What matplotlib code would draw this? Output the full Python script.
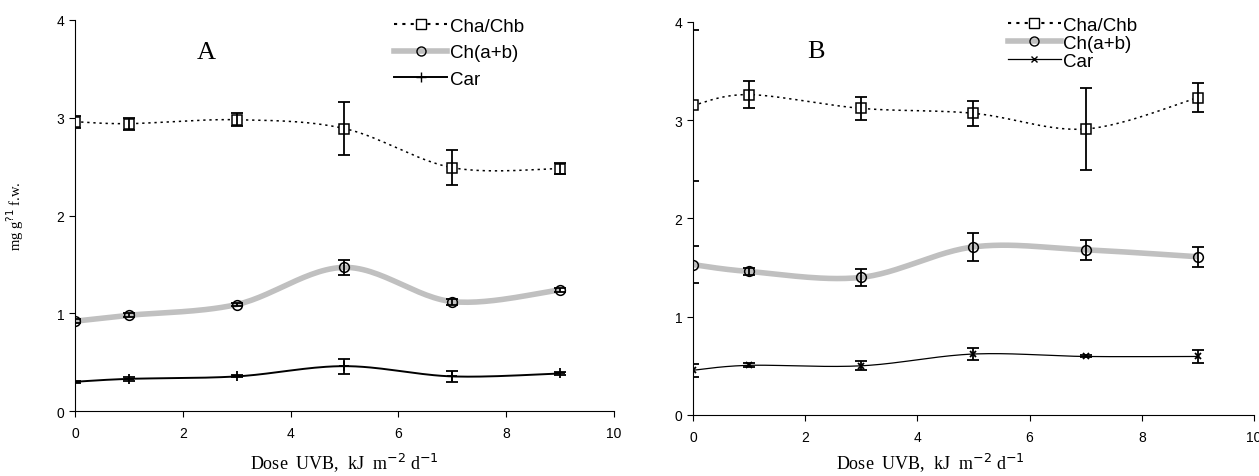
import numpy as np
from matplotlib import pyplot as plt

# dose UVB (kJ m-2 d-1)
DOSE = [0, 1, 3, 5, 7, 9]

# panel A
A_RATIO = [2.96, 2.94, 2.98, 2.89, 2.49, 2.48]
A_RATIO_ERR = [0.06, 0.06, 0.065, 0.27, 0.18, 0.06]
A_CHL = [0.92, 0.98, 1.09, 1.47, 1.12, 1.24]
A_CHL_ERR = [0.02, 0.02, 0.02, 0.075, 0.03, 0.02]
A_CAR = [0.30, 0.33, 0.355, 0.46, 0.355, 0.385]
A_CAR_ERR = [0.01, 0.02, 0.01, 0.077, 0.06, 0.02]

# panel B
B_RATIO = [3.15, 3.26, 3.12, 3.07, 2.91, 3.23]
B_RATIO_ERR = [0.77, 0.135, 0.12, 0.13, 0.42, 0.15]
B_CHL = [1.53, 1.46, 1.40, 1.71, 1.68, 1.61]
B_CHL_ERR = [0.19, 0.04, 0.09, 0.14, 0.105, 0.10]
B_CAR = [0.455, 0.505, 0.50, 0.62, 0.595, 0.595]
B_CAR_ERR = [0.065, 0.02, 0.047, 0.06, 0.01, 0.07]

LABELS = ["Cha/Chb", "Ch(a+b)", "Car"]


def smooth(x, y, n=30):
    # excel-like smoothed line (bezier through the points)
    p = np.column_stack([x, y]).astype(float)
    p = np.vstack([p[0], p, p[-1]])
    out = []
    t = np.linspace(0, 1, n)[:, None]
    for i in range(1, len(p) - 2):
        p0, p1, p2, p3 = p[i - 1], p[i], p[i + 1], p[i + 2]
        c1 = p1 + (p2 - p0) / 6
        c2 = p2 - (p3 - p1) / 6
        seg = ((1 - t) ** 3) * p1 + 3 * ((1 - t) ** 2) * t * c1 + 3 * (1 - t) * t ** 2 * c2 + t ** 3 * p2
        out.append(seg)
    s = np.vstack(out)
    return s[:, 0], s[:, 1]


plt.rcParams['font.family'] = ['Liberation Sans', 'DejaVu Sans']

fig = plt.figure(figsize=(12.59, 4.77), dpi=100)
axA = fig.add_axes([0.0596, 0.136, 0.428, 0.820])
axB = fig.add_axes([0.5504, 0.128, 0.4456, 0.824])

DOTS = (0, (1.5, 2.5))


def panel(ax, ratio, ratio_err, chl, chl_err, car, car_err, car_marker, car_ms, car_lw,
          letter, letter_xy, leg_xy, leg_spacing):
    sx, sy = smooth(DOSE, ratio)
    ax.plot(sx, sy, color='black', lw=1.1, ls=DOTS)
    sx, sy = smooth(DOSE, chl)
    ax.plot(sx, sy, color='#c0c0c0', lw=4, solid_capstyle='butt')
    sx, sy = smooth(DOSE, car)
    ax.plot(sx, sy, color='black', lw=car_lw)

    ax.plot(DOSE, ratio, ls='none', marker='s', ms=6.5, mfc='white', mec='black', mew=1.1, zorder=3)
    ax.plot(DOSE, chl, ls='none', marker='o', ms=7, mfc='none', mec='black', mew=1.1, zorder=3)
    ax.plot(DOSE, car, ls='none', marker=car_marker, ms=car_ms, mec='black', mfc='black', mew=1.3, zorder=3)
    eb = dict(fmt='none', ecolor='black', elinewidth=1.3, capsize=4, capthick=1.3, zorder=4)
    ax.errorbar(DOSE, ratio, yerr=ratio_err, **eb)
    ax.errorbar(DOSE, chl, yerr=chl_err, **eb)
    ax.errorbar(DOSE, car, yerr=car_err, **eb)

    # legend proxies
    h1, = ax.plot([], [], color='black', lw=1.5, ls=DOTS, marker='s', ms=6.5, mfc='white', mec='black')
    h2, = ax.plot([], [], color='#c0c0c0', lw=4, marker='o', ms=6.5, mfc='none', mec='black')
    h3, = ax.plot([], [], color='black', lw=car_lw, marker=car_marker, ms=car_ms, mec='black', mfc='black')
    ax.legend([h1, h2, h3], LABELS, loc='upper right', bbox_to_anchor=leg_xy, frameon=False,
              fontsize=13.5, handlelength=2.8, handletextpad=0.15, labelspacing=leg_spacing, borderpad=0.2)

    ax.text(letter_xy[0], letter_xy[1], letter, transform=ax.transAxes, fontsize=19,
            family=['Liberation Serif'], ha='center', va='center')

    ax.set_xlim(0, 10)
    ax.set_ylim(0, 4)
    ax.set_xticks(np.arange(0, 11, 2))
    ax.set_yticks(np.arange(0, 5, 1))
    ax.spines['top'].set_visible(False)
    ax.spines['right'].set_visible(False)
    ax.tick_params(direction='out', length=4, labelsize=10, width=0.8)
    ax.tick_params(axis='x', pad=7)
    ax.set_xlabel('Dose  UVB,  kJ  m$^{-2}$ d$^{-1}$', family=['Liberation Serif'], fontsize=13)


panel(axA, A_RATIO, A_RATIO_ERR, A_CHL, A_CHL_ERR, A_CAR, A_CAR_ERR, '+', 7, 1.4,
      'A', (0.243, 0.918), (0.857, 1.04), 0.5)
panel(axB, B_RATIO, B_RATIO_ERR, B_CHL, B_CHL_ERR, B_CAR, B_CAR_ERR, 'x', 4.5, 0.9,
      'B', (0.219, 0.926), (0.816, 1.047), 0.05)
axA.xaxis.set_label_coords(0.5, -0.1)
axB.xaxis.set_label_coords(0.4225, -0.09)

axA.set_ylabel('mg g$^{?1}$ f.w.', family=['Liberation Serif'], fontsize=10.5, labelpad=22)

fig.savefig('out.png', dpi=100)
